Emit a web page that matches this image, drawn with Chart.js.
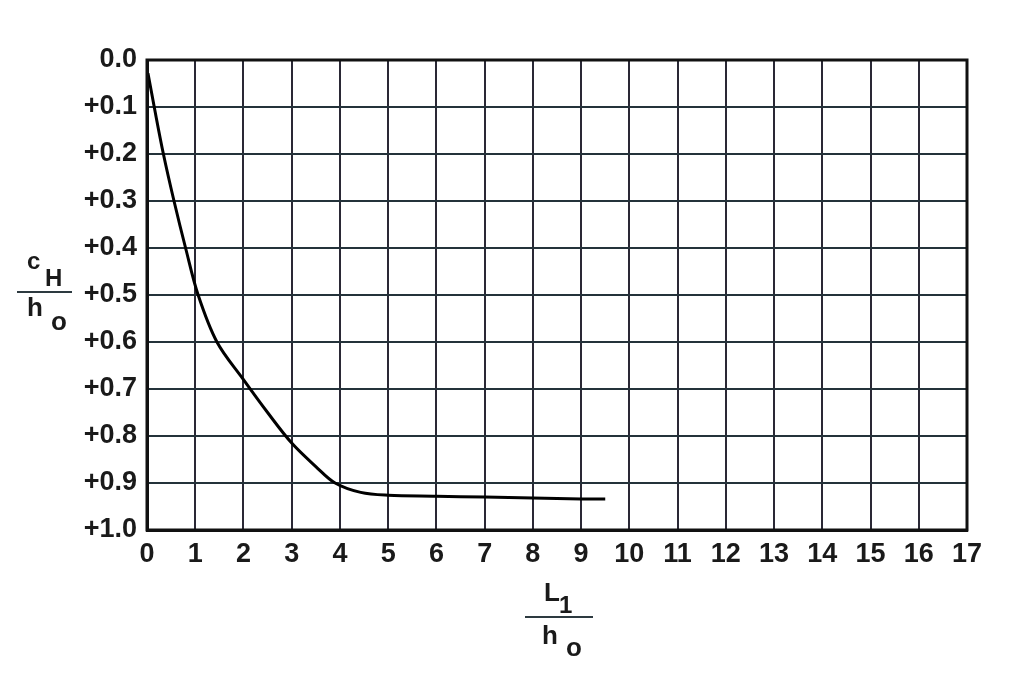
<!DOCTYPE html>
<html>
<head>
<meta charset="utf-8">
<script src="https://cdn.jsdelivr.net/npm/chart.js@4/dist/chart.umd.min.js"></script>
<style>
html,body{margin:0;padding:0;background:#fff;}
#wrap{width:1024px;height:692px;position:relative;}
</style>
</head>
<body>
<div id="wrap"><canvas id="c" width="1024" height="692"></canvas></div>
<script>
const xValues = [0.02, 0.15, 0.34, 0.56, 0.8, 1.06, 1.45, 2.0, 2.5, 3.0, 3.5, 3.9, 4.43, 5, 6, 7, 8, 9, 9.5];
const yValues = [0.028, 0.1, 0.2, 0.3, 0.4, 0.5, 0.6, 0.68, 0.75, 0.815, 0.865, 0.9, 0.92, 0.926, 0.928, 0.93, 0.932, 0.934, 0.934];
const xTicks = [0,1,2,3,4,5,6,7,8,9,10,11,12,13,14,15,16,17];
const yTickLabels = ['0.0','+0.1','+0.2','+0.3','+0.4','+0.5','+0.6','+0.7','+0.8','+0.9','+1.0'];

const points = xValues.map((x, i) => ({x: x, y: yValues[i]}));
const FONT = '"Liberation Sans", Arial, sans-serif';

const extras = {
  id: 'extras',
  afterDraw(chart) {
    const ctx = chart.ctx;
    const a = chart.chartArea;
    ctx.save();
    ctx.strokeStyle = '#111';
    ctx.lineWidth = 3;
    ctx.strokeRect(a.left, a.top, a.right - a.left, a.bottom - a.top);
    ctx.fillStyle = '#1a1a1a';
    ctx.textBaseline = 'alphabetic';
    ctx.textAlign = 'left';
    // y title c_H / h_o
    ctx.font = 'bold 24px ' + FONT;
    ctx.fillText('c', 27, 269);
    ctx.fillText('H', 45, 286);
    ctx.font = 'bold 26px ' + FONT;
    ctx.fillText('h', 27, 316);
    ctx.fillText('o', 51, 330);
    ctx.strokeStyle = '#2d3a40';
    ctx.lineWidth = 2;
    ctx.beginPath(); ctx.moveTo(17, 292); ctx.lineTo(72, 292); ctx.stroke();
    // x title L_1 / h_o
    ctx.font = 'bold 26px ' + FONT;
    ctx.fillText('L', 544, 601);
    ctx.font = 'bold 24px ' + FONT;
    ctx.fillText('1', 559, 613);
    ctx.font = 'bold 26px ' + FONT;
    ctx.fillText('h', 542, 644);
    ctx.fillText('o', 566, 656);
    ctx.beginPath(); ctx.moveTo(525, 617); ctx.lineTo(593, 617); ctx.stroke();
    ctx.restore();
  }
};

new Chart(document.getElementById('c'), {
  type: 'scatter',
  data: {
    datasets: [{
      data: points,
      showLine: true,
      borderColor: '#000',
      borderWidth: 3,
      pointRadius: 0,
      tension: 0.35,
      fill: false
    }]
  },
  options: {
    responsive: false,
    animation: false,
    layout: { padding: { left: 0, top: 60, right: 57, bottom: 0 } },
    plugins: { legend: { display: false }, tooltip: { enabled: false } },
    scales: {
      x: {
        type: 'linear',
        min: 0, max: 17,
        afterBuildTicks: (s) => { s.ticks = xTicks.map(v => ({value: v})); },
        afterFit: (s) => { s.height = 162; },
        grid: { color: '#2a2835', lineWidth: 2, drawTicks: false },
        border: { display: true, color: '#111', width: 3 },
        ticks: {
          padding: 8,
          color: '#1a1a1a',
          font: { family: FONT, size: 27, weight: 'bold' },
          maxRotation: 0,
          autoSkip: false,
          callback: (v) => String(v)
        }
      },
      y: {
        type: 'linear',
        min: 0, max: 1,
        reverse: true,
        afterBuildTicks: (s) => { s.ticks = yTickLabels.map((t, i) => ({value: i / 10})); },
        afterFit: (s) => { s.width = 147; },
        grid: { color: '#24323a', lineWidth: 2, drawTicks: false },
        border: { display: true, color: '#111', width: 3 },
        ticks: {
          padding: 10,
          color: '#1a1a1a',
          font: { family: FONT, size: 27, weight: 'bold' },
          autoSkip: false,
          callback: (v, i) => yTickLabels[i]
        }
      }
    }
  },
  plugins: [extras]
});
</script>
</body>
</html>
